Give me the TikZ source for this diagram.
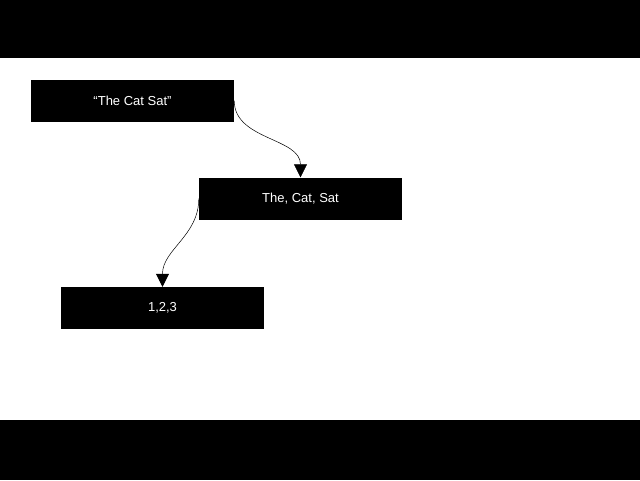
\documentclass[tikz,border=0pt]{standalone}
\usepackage{fontspec}
\setmainfont{Liberation Sans}
\usepackage{tikz}
\usetikzlibrary{arrows.meta}

\tikzset{
  tokbox/.style={fill=black,text=white,minimum width=203pt,minimum height=42pt,inner sep=0pt,font=\fontsize{13}{15}\selectfont},
  flow/.style={-{Triangle[width=13pt,length=13pt]},line width=0.5pt,out=-90,in=90}
}

\begin{document}
\begin{tikzpicture}[x=1pt,y=-1pt]
  \useasboundingbox (0,0) rectangle (640,480);
  \fill[white] (0,0) rectangle (640,480);
  \fill[black] (0,0) rectangle (640,58);
  \fill[black] (0,420) rectangle (640,480);
  \node[tokbox] (sentence) at (132.5,100.5) {“The Cat Sat”};
  \node[tokbox] (words) at (300.5,198.5) {The, Cat, Sat};
  \node[tokbox] (ids) at (162.5,308) {1,2,3};
  \path[flow]
    (sentence.east) edge (words.north)
    (words.west) edge (ids.north);
\end{tikzpicture}
\end{document}
